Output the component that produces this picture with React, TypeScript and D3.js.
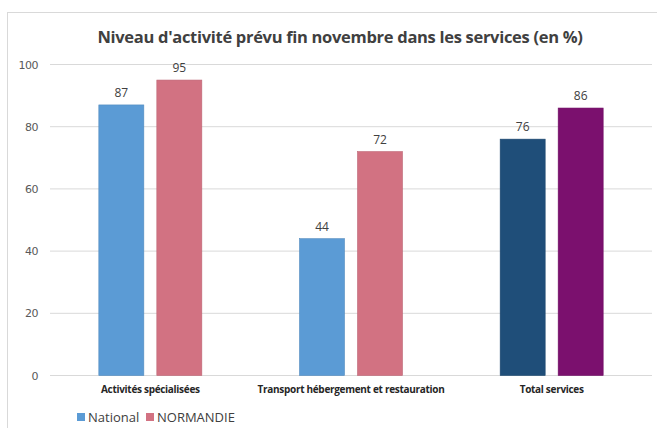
import React from "react";
import * as d3 from "d3";

const categories = ["Activités spécialisées", "Transport hébergement et restauration", "Total services"];
const seriesNames = ["National", "NORMANDIE"];
const nationalValues = [87, 44, 76];
const normandieValues = [95, 72, 86];
const yTicks = [0, 20, 40, 60, 80, 100];
const title = "Niveau d'activité prévu fin novembre dans les services (en %)";

const W = 657;
const H = 428;
const plot = { left: 50, right: 652, top: 64.5, bottom: 375.5 };

const baseColors = ["#5B9BD5", "#D27282"];
const totalColors = ["#1F4E79", "#7B106E"];

export default function App() {
  const x0 = d3.scaleBand<string>().domain(categories).range([plot.left, plot.right]).padding(0);
  const x1 = d3
    .scaleBand<string>()
    .domain(seriesNames)
    .range([0, x0.bandwidth()])
    .paddingInner(0.224)
    .paddingOuter(0.842);
  const y = d3.scaleLinear().domain([0, 100]).range([plot.bottom, plot.top]);
  const values = [nationalValues, normandieValues];
  const font = "'Open Sans', 'DejaVu Sans', sans-serif";

  return (
    <svg
      width={W}
      height={H}
      style={{ position: "absolute", left: 0, top: 0, background: "#fff" }}
      fontFamily={font}
    >
      <rect x={0} y={0} width={W} height={H} fill="#fff" />
      <line x1={7.5} y1={12} x2={7.5} y2={H} stroke="#d9d9d9" />
      <line x1={7} y1={12.5} x2={W} y2={12.5} stroke="#d9d9d9" />
      <text x={340} y={43} textAnchor="middle" fontSize={16.5} fontWeight="bold" fill="#404040" letterSpacing={-0.3}>
        {title}
      </text>
      {yTicks.map((t) => (
        <g key={t}>
          <line x1={plot.left} x2={plot.right} y1={y(t)} y2={y(t)} stroke="#d9d9d9" strokeWidth={1} />
          <text x={38} y={y(t) + 4} textAnchor="end" fontSize={11} fill="#595959" fontFamily="'DejaVu Sans', sans-serif" letterSpacing={-0.5}>
            {t}
          </text>
        </g>
      ))}
      {categories.map((c, ci) => (
        <g key={c}>
          {seriesNames.map((s, si) => {
            const v = values[si][ci];
            const bx = (x0(c) ?? 0) + (x1(s) ?? 0);
            const color = ci === 2 ? totalColors[si] : baseColors[si];
            return (
              <g key={s}>
                <rect x={bx} y={y(v)} width={x1.bandwidth()} height={y(0) - y(v)} fill={color} stroke={d3.color(color)?.darker(0.3).toString()} strokeWidth={0.6} />
                <text x={bx + x1.bandwidth() / 2} y={y(v) - 8} textAnchor="middle" fontSize={12} fill="#404040">
                  {v}
                </text>
              </g>
            );
          })}
          <text x={(x0(c) ?? 0) + x0.bandwidth() / 2} y={393} textAnchor="middle" fontSize={10} fontWeight="bold" fill="#262626" letterSpacing={-0.3}>
            {c}
          </text>
        </g>
      ))}
      <g>
        <rect x={77} y={413} width={8} height={8} fill={baseColors[0]} />
        <text x={88} y={422} fontSize={13} fill="#404040">
          {seriesNames[0]}
        </text>
        <rect x={146} y={413} width={8} height={8} fill={baseColors[1]} />
        <text x={157} y={422} fontSize={13} fill="#404040">
          {seriesNames[1]}
        </text>
      </g>
    </svg>
  );
}
